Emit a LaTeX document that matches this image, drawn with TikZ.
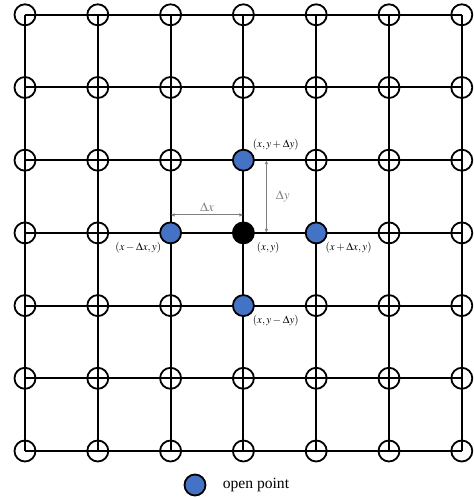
\documentclass[tikz,border=0pt]{standalone}
\usepackage{mathptmx}
\usepackage[no-math]{fontspec}
\setmainfont{Liberation Serif}
\usetikzlibrary{arrows.meta,positioning}
\definecolor{openblue}{RGB}{68,114,196}
\begin{document}
\begin{tikzpicture}[
  x=0.5pt,y=0.5pt,
  pt/.style={circle,draw,line width=0.9pt,minimum size=10.5pt,inner sep=0pt},
  open/.style={pt,fill=openblue},
  cur/.style={pt,fill=black},
  lbl/.style={font=\fontsize{5.5}{6.5}\selectfont,inner sep=0.5pt},
  dlbl/.style={font=\fontsize{6.5}{7.5}\selectfont,inner sep=0.5pt},
  dim/.style={{Latex[length=2pt,width=1.8pt]}-{Latex[length=2pt,width=1.8pt]},gray,line width=0.5pt},
  gridline/.style={line width=1pt}
]
  \useasboundingbox (0,0) rectangle (474,498);
  \foreach \i in {0,...,6}
    \foreach \j in {0,...,6}
      \coordinate (p-\i-\j) at ({25+72.8*\i},{47+72.7*\j});
  \foreach \i in {0,...,6} {
    \draw[gridline] (p-\i-0) -- (p-\i-6);
    \draw[gridline] (p-0-\i) -- (p-6-\i);
  }
  \foreach \i in {0,...,6}
    \foreach \j in {0,...,6} {
      \pgfmathtruncatemacro\near{abs(\i-3)+abs(\j-3)<=1}
      \ifnum\near=0 \node[pt] (n-\i-\j) at (p-\i-\j) {};\fi
    }

  \node[cur] (c) at (p-3-3) {};
  \node[open] (up) at (p-3-4) {};
  \node[open] (down) at (p-3-2) {};
  \node[open] (left) at (p-2-3) {};
  \node[open] (right) at (p-4-3) {};

  \node[lbl,anchor=south west] at (up.north east) {$(x,y+\Delta y)$};
  \node[lbl,anchor=north west,xshift=2pt] at (c.south east) {$(x,y)$};
  \node[lbl,anchor=north east] at (left.south west) {$(x-\Delta x,y)$};
  \node[lbl,anchor=north west] at (right.south east) {$(x+\Delta x,y)$};
  \node[lbl,anchor=north west] at (down.south east) {$(x,y-\Delta y)$};

  \draw[dim] ([yshift=9pt]left.center) -- node[dlbl,above=1pt]{$\Delta x$} ([yshift=9pt]c.center);
  \draw[dim] ([xshift=11.5pt]c.center) -- node[dlbl,right=4pt]{$\Delta y$} ([xshift=11.5pt]up.center);

  \node[open] (key) at (195,13) {};
  \node[font=\fontsize{7.8}{9}\selectfont,inner sep=0pt,right=8pt of key] {open point};
\end{tikzpicture}
\end{document}
